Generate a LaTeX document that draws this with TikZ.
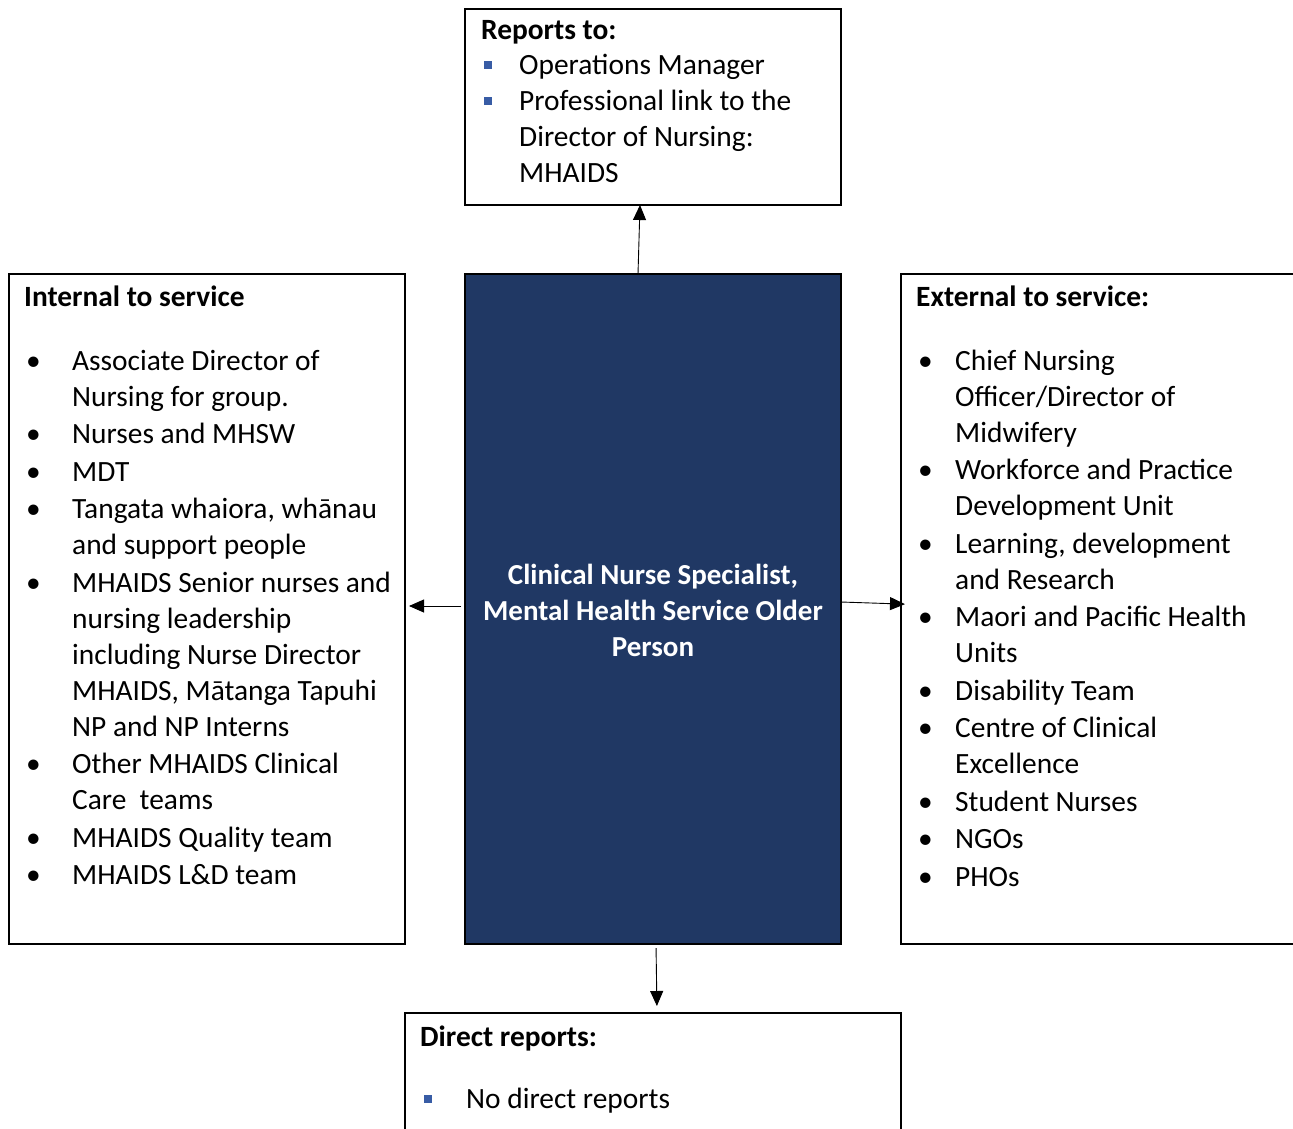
\documentclass[tikz,border=0pt]{standalone}
\usepackage{fontspec}
\setmainfont{Carlito}
\usetikzlibrary{arrows.meta}

\definecolor{navy}{RGB}{32,56,100}
\definecolor{sqblue}{RGB}{56,92,165}
\newcommand{\blt}{\textbullet}
\newcommand{\sqb}{\textcolor{sqblue}{\rule[5.5pt]{7.5pt}{7.5pt}}}

\tikzset{
  box/.style={draw, line width=1.8pt, anchor=north west, inner sep=0pt, outer sep=0pt},
  navybox/.style={box, fill=navy},
  listtext/.style={anchor=base west, inner sep=0pt, align=left, font=\fontsize{29.4}{36}\selectfont},
  arr/.style={-{Triangle[length=15pt,width=13pt]}, line width=0.9pt},
}

\begin{document}
\begin{tikzpicture}[x=1pt, y=-1pt]
  \useasboundingbox (0,0) rectangle (1293,1128);
  \clip (0,0) rectangle (1293,1128);

  % boxes
  \node[box, minimum width=376, minimum height=196] (reports) at (465,9) {};
  \node[box, minimum width=396, minimum height=670] (internal) at (9,274) {};
  \node[navybox, minimum width=376, minimum height=670] (cns) at (465,274) {};
  \node[box, minimum width=500, minimum height=670] (external) at (901,274) {};
  \node[box, minimum width=496, minimum height=200] (direct) at (405,1013) {};

  % texts
  \node[listtext] (reportstxt) at (484,39) {\begin{tabular}[t]{@{}p{35pt}@{}l@{}}
    \multicolumn{2}{@{}l@{}}{\hspace*{-3pt}\textbf{Reports to:}}\\[-1pt]
    \sqb & Operations Manager\\
    \sqb & Professional link to the\\
        & Director of Nursing:\\
        & MHAIDS
  \end{tabular}};

  \node[listtext] (internaltxt) at (26,306) {\begin{tabular}[t]{@{}p{46pt}@{}l@{}}
    \multicolumn{2}{@{}l@{}}{\hspace*{-2pt}\textbf{Internal to service}}\\[28pt]
    \blt & Associate Director of\\
         & Nursing for group.\\[1.5pt]
    \blt & Nurses and MHSW\\[1.5pt]
    \blt & MDT\\[1.5pt]
    \blt & Tangata whaiora, whānau\\
         & and support people\\[1.5pt]
    \blt & MHAIDS Senior nurses and\\
         & nursing leadership\\
         & including Nurse Director\\
         & MHAIDS, Mātanga Tapuhi\\
         & NP and NP Interns\\[1.5pt]
    \blt & Other MHAIDS Clinical\\
         & Care\ \ teams\\[1.5pt]
    \blt & MHAIDS Quality team\\[1.5pt]
    \blt & MHAIDS L\&D team
  \end{tabular}};

  \node[listtext] (externaltxt) at (918,306) {\begin{tabular}[t]{@{}p{37pt}@{}l@{}}
    \multicolumn{2}{@{}l@{}}{\hspace*{-2pt}\textbf{External to service:}}\\[28pt]
    \blt & Chief Nursing\\
         & Officer/Director of\\
         & Midwifery\\[1.5pt]
    \blt & Workforce and Practice\\
         & Development Unit\\[1.5pt]
    \blt & Learning, development\\
         & and Research\\[1.5pt]
    \blt & Maori and Pacific Health\\
         & Units\\[1.5pt]
    \blt & Disability Team\\[1.5pt]
    \blt & Centre of Clinical\\
         & Excellence\\[1.5pt]
    \blt & Student Nurses\\[1.5pt]
    \blt & NGOs\\[1.5pt]
    \blt & PHOs
  \end{tabular}};

  \node[listtext] (directtxt) at (424,1046) {\begin{tabular}[t]{@{}p{42pt}@{}l@{}}
    \multicolumn{2}{@{}l@{}}{\hspace*{-4pt}\textbf{Direct reports:}}\\[26pt]
    \sqb & No direct reports
  \end{tabular}};

  \node[align=center, text=white, inner sep=0pt,
        font=\fontsize{29}{36}\selectfont\bfseries] (cnstxt) at (653,610)
    {Clinical Nurse Specialist,\\ Mental Health Service Older\\ Person};

  % connectors
  \draw[arr] ([xshift=-15pt]cns.north) -- ([xshift=-13pt]reports.south);
  \draw[arr, shorten <=4pt, shorten >=4pt] ([yshift=3pt]cns.west) -- ([yshift=3pt]internal.east);
  \draw[arr, shorten <=1pt, shorten >=-4pt] ([yshift=7pt]cns.east) -- ([yshift=5pt]external.west);
  \draw[arr, shorten <=4pt, shorten >=7pt] ([xshift=3pt]cns.south) -- ([xshift=4pt]direct.north);
\end{tikzpicture}
\end{document}
